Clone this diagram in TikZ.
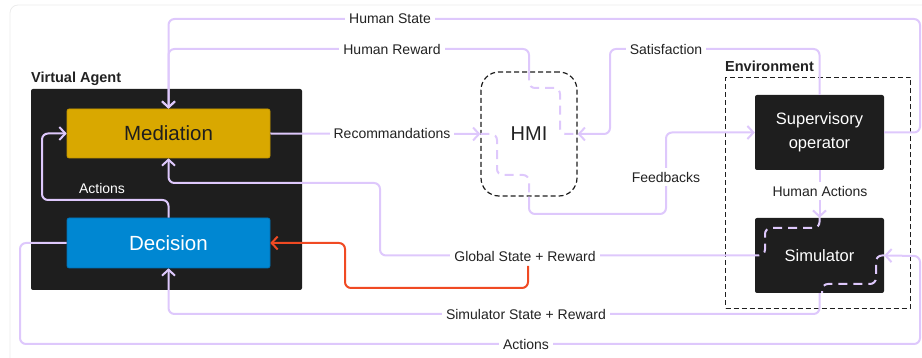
\documentclass[tikz,border=0pt]{standalone}
\usepackage{fontspec}
\setmainfont{Liberation Sans}
\usetikzlibrary{arrows.meta}
\definecolor{lav}{RGB}{222,200,252}
\definecolor{boxk}{RGB}{30,30,30}
\definecolor{medy}{RGB}{217,168,0}
\definecolor{medyd}{RGB}{196,150,0}
\definecolor{decb}{RGB}{0,135,210}
\definecolor{decbd}{RGB}{0,112,180}
\definecolor{redl}{RGB}{240,74,35}
\definecolor{labc}{RGB}{34,34,34}
\definecolor{framec}{RGB}{236,236,236}
\tikzset{
  conn/.style={draw=lav, line width=2pt, rounded corners=6pt},
  redconn/.style={draw=redl, line width=2pt, rounded corners=6pt},
  arr/.style={-{Straight Barb[length=6pt,width=13pt]}},
  dashconn/.style={conn, dash pattern=on 9pt off 6pt},
  lbl/.style={fill=white, inner sep=4pt, text=labc, font=\fontsize{14}{16}\selectfont},
  ttl/.style={anchor=west, inner sep=0pt, text=labc, font=\fontsize{14.5}{17}\selectfont\bfseries},
  kbox/.style={fill=boxk, rounded corners=2pt, inner sep=0pt},
  dbox/.style={draw=boxk, line width=1.2pt, dash pattern=on 5pt off 3pt, inner sep=0pt},
}
\begin{document}
\begin{tikzpicture}[x=1pt,y=-1pt]
\useasboundingbox (0,0) rectangle (922,358);
% outer frame
\draw[framec, line width=0.8pt, rounded corners=8pt] (10,5) rectangle (945,380);

% Virtual agent
\node[kbox, minimum width=271pt, minimum height=201pt] (va) at (166.5,189.5) {};
\node[ttl] (vat) at (31,79) {Virtual Agent};
\node[fill=medy, draw=medyd, line width=0.6pt, rounded corners=2pt, inner sep=0pt,
      minimum width=203pt, minimum height=49pt, text=boxk,
      font=\fontsize{20.5}{24}\selectfont] (med) at (168.5,133.5) {Mediation};
\node[fill=decb, draw=decbd, line width=0.6pt, rounded corners=2pt, inner sep=0pt,
      minimum width=203pt, minimum height=50pt, text=white,
      font=\fontsize{20.5}{24}\selectfont] (dec) at (168.5,243) {Decision};

% HMI
\node[dbox, rounded corners=18pt, minimum width=96pt, minimum height=124pt,
      text=labc, font=\fontsize{20}{24}\selectfont] (hmi) at (529,134) {HMI};

% Environment
\node[dbox, minimum width=185pt, minimum height=231pt] (env) at (818,193) {};
\node[ttl] (envt) at (725,66) {Environment};
\node[kbox, minimum width=129pt, minimum height=75pt, text=white, align=center,
      font=\fontsize{16.5}{24}\selectfont] (sup) at (819.5,132.5) {Supervisory\\operator};
\node[kbox, minimum width=129pt, minimum height=75pt, text=white,
      font=\fontsize{16.5}{20}\selectfont] (sim) at (819.5,255.5) {Simulator};

% coordinates
\coordinate (hsR) at (920,19);
\coordinate (hrT) at (300,49);
\coordinate (satT) at (610,49);
\coordinate (fbB) at (666,214);
\coordinate (gsC) at (380,183);
\coordinate (redS) at (528,266);
\coordinate (redB) at (345,288);
\coordinate (ssB) at (500,314);
\coordinate (acL) at (20,344);
\coordinate (acR) at (920,256);
\coordinate (aiL) at (42,200);

% Human State
\draw[conn, arr] (sup.east) -| (hsR) -| (med.north);
% Human Reward
\draw[conn, arr] (hmi.north) |- (hrT) -| (med.north);
\draw[dashconn] (hmi.north) -- (529,88) -- (560,88) -- (560,134) -- (hmi.east);
% Satisfaction
\draw[conn, arr] (sup.north) |- (satT) |- (hmi.east);
% Recommandations
\draw[conn, arr] (med.east) -- (hmi.west);
\draw[dashconn] (hmi.west) -- (497,134) -- (497,175) -- (529,175) -- (hmi.south);
% Feedbacks
\draw[conn, arr] (hmi.south) |- (fbB) |- (sup.west);
% Human Actions
\draw[conn, arr] (sup.south) -- (sim.north);
\draw[dashconn] (sim.north) -- (819.5,228) -- (765,228) -- (765,255.5) -- (sim.west);
% Global State + Reward
\draw[conn, arr] (sim.west) -| (gsC) -| (med.south);
\draw[redconn, arr] (redS) |- (redB) |- (dec.east);
% Simulator State + Reward
\draw[dashconn] (sim.east) -- (876,255.5) -- (876,284) -- (822,284) -- (822,293);
\draw[conn, arr] (sim.south) |- (ssB) -| (dec.south);
% Actions (bottom)
\draw[conn, arr] (dec.west) -| (acL) -| (acR) -- (sim.east);
% Actions (inner)
\draw[conn, arr] (dec.north) |- (aiL) |- (med.west);

% labels
\node[lbl] (lhs) at (390,19) {Human State};
\node[lbl] (lhr) at (392,49) {Human Reward};
\node[lbl] (lsat) at (666,49) {Satisfaction};
\node[lbl] (lrec) at (392,133.5) {Recommandations};
\node[lbl] (lfb) at (666,177) {Feedbacks};
\node[lbl] (lha) at (820,191) {Human Actions};
\node[lbl] (lgs) at (525,256) {Global State + Reward};
\node[lbl] (lss) at (526,314) {Simulator State + Reward};
\node[lbl] (lac) at (526,344) {Actions};
\node[lbl, fill=none, text=white] (lai) at (102,188) {Actions};
\end{tikzpicture}
\end{document}
